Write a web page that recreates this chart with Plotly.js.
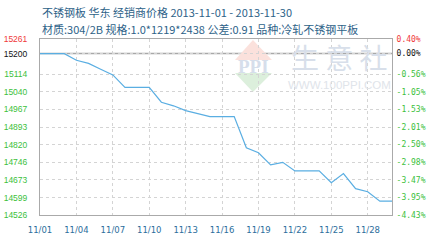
<!DOCTYPE html>
<html><head><meta charset="utf-8">
<script src="https://cdn.plot.ly/plotly-3.0.1.min.js"></script>
<style>html,body{margin:0;padding:0;background:#fff}#c{width:432px;height:240px}</style>
</head><body><div id="c"></div>
<script>
var titleLine1 = "不锈钢板 华东 经销商价格 2013-11-01 - 2013-11-30";
var titleLine2 = "材质:304/2B 规格:1.0*1219*2438 公差:0.91 品种:冷轧不锈钢平板";
var dates = ["2013-11-01","2013-11-02","2013-11-03","2013-11-04","2013-11-05","2013-11-06","2013-11-07","2013-11-08","2013-11-09","2013-11-10","2013-11-11","2013-11-12","2013-11-13","2013-11-14","2013-11-15","2013-11-16","2013-11-17","2013-11-18","2013-11-19","2013-11-20","2013-11-21","2013-11-22","2013-11-23","2013-11-24","2013-11-25","2013-11-26","2013-11-27","2013-11-28","2013-11-29","2013-11-30"];
var prices = [15200,15200,15200,15172,15159,15135,15111,15059,15059,15059,14997,14982,14962,14950,14937,14937,14937,14807,14786,14735,14746,14710,14710,14710,14661,14699,14636,14623,14584,14584];
var basePrice = 15200;
var yTickVals = [15261,15200,15114,15040,14967,14893,14820,14746,14673,14599,14526];
var pctLabels = ["0.40%","0.00%","-0.56%","-1.05%","-1.53%","-2.01%","-2.50%","-2.98%","-3.47%","-3.95%","-4.43%"];
var xTickVals = ["2013-11-01","2013-11-04","2013-11-07","2013-11-10","2013-11-13","2013-11-16","2013-11-19","2013-11-22","2013-11-25","2013-11-28"];
var xTickLabels = ["11/01","11/04","11/07","11/10","11/13","11/16","11/19","11/22","11/25","11/28"];

function col(i){ return i===0 ? "#f03a3a" : (i===1 ? "#111111" : "#3cbf3c"); }
var leftText = yTickVals.map(function(v,i){return '<span style="color:'+col(i)+'">'+v+'</span>';});
var rightText = pctLabels.map(function(t,i){return '<span style="color:'+col(i)+'">'+t+'</span>';});
var yRange = [yTickVals[yTickVals.length-1], yTickVals[0]];

var traces = [
 {x:dates,y:prices,type:"scatter",mode:"lines",line:{color:"#5aaee2",width:1.2},hoverinfo:"skip"},
 {x:dates,y:prices,type:"scatter",mode:"lines",yaxis:"y2",line:{color:"rgba(0,0,0,0)",width:0},hoverinfo:"skip",showlegend:false}
];
var gridStyle = {gridcolor:"#d4d4d4",griddash:"dot",gridwidth:1};
var layout = {
 width:432,height:240,margin:{l:40,r:40,t:39,b:25},
 paper_bgcolor:"#fff",plot_bgcolor:"#fff",showlegend:false,
 xaxis:Object.assign({type:"date",range:[dates[0],dates[dates.length-1]],tickvals:xTickVals,ticktext:xTickLabels,
   tickfont:{family:"DejaVu Sans",size:8.5,color:"#2c6e9c"},ticks:"outside",ticklen:7,tickcolor:"rgba(0,0,0,0)",
   showline:true,linecolor:"#aaaaaa",mirror:true,zeroline:false},gridStyle),
 yaxis:Object.assign({range:yRange,tickvals:yTickVals,ticktext:leftText,tickfont:{family:"Liberation Sans",size:8.5},
   ticks:"outside",ticklen:10,tickcolor:"rgba(0,0,0,0)",showline:true,linecolor:"#aaaaaa",mirror:true,zeroline:false},gridStyle),
 yaxis2:{overlaying:"y",side:"right",range:yRange,tickvals:yTickVals,ticktext:rightText,showgrid:false,zeroline:false,
   tickfont:{family:"DejaVu Sans Mono",size:8},ticks:"outside",ticklen:2,tickcolor:"rgba(0,0,0,0)",showline:false},
 shapes:[
  {type:"line",xref:"paper",x0:0,x1:1,yref:"y",y0:basePrice,y1:basePrice,line:{color:"#a8a8a8",width:1.5},layer:"below"},
  {type:"path",xref:"paper",yref:"paper",path:"M0.554,0.881 L0.605,0.994 L0.659,0.881 Z",fillcolor:"#fbe1dc",line:{width:0},layer:"below"},
  {type:"path",xref:"paper",yref:"paper",path:"M0.554,0.807 L0.605,0.699 L0.659,0.807 Z",fillcolor:"#dcefdc",line:{width:0},layer:"below"}
 ],
 annotations:[
  {text:titleLine1,xref:"paper",yref:"paper",x:0,y:1,yshift:27,xanchor:"left",yanchor:"middle",showarrow:false,
   font:{family:"Noto Sans CJK SC",size:11,color:"#2d6288"}},
  {text:titleLine2,xref:"paper",yref:"paper",x:0,y:1,yshift:10,xanchor:"left",yanchor:"middle",showarrow:false,
   font:{family:"Noto Sans CJK SC",size:11,color:"#2d6288"}},
  {text:"<b>PPI</b>",xref:"paper",yref:"paper",x:0.606,y:0.844,xanchor:"center",yanchor:"middle",showarrow:false,
   font:{family:"Liberation Serif",size:19,color:"#d6deeb"}},
  {text:"生 意 社",xref:"paper",yref:"paper",x:0.85,y:0.9,xanchor:"center",yanchor:"middle",showarrow:false,
   font:{family:"Noto Sans CJK SC",size:28,color:"#d8dfea"}},
  {text:"WWW.100PPI.COM",xref:"paper",yref:"paper",x:0.852,y:0.74,xanchor:"center",yanchor:"middle",showarrow:false,
   font:{family:"Liberation Sans",size:11.5,color:"#e0e4ea"}}
 ]
};
Plotly.newPlot("c",traces,layout,{staticPlot:true,displayModeBar:false});
</script></body></html>
